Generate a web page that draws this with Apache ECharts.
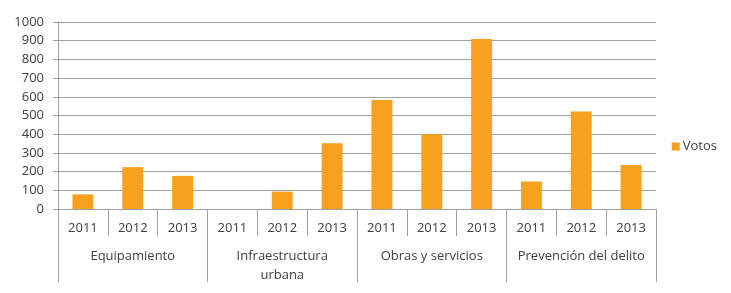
<!DOCTYPE html>
<html>
<head>
<meta charset="utf-8">
<script src="https://cdn.jsdelivr.net/npm/echarts@6/dist/echarts.min.js"></script>
<style>
  html, body { margin: 0; padding: 0; background: #fff; }
  #chart { width: 731px; height: 293px; }
</style>
</head>
<body>
<div id="chart"></div>
<script>
// data
var groups = ['Equipamiento', 'Infraestructura\nurbana', 'Obras y servicios', 'Prevención del delito'];
var years = ['2011', '2012', '2013'];
var votos = [78, 224, 177, 0, 93, 352, 583, 400, 909, 147, 521, 235];
var yTicks = { min: 0, max: 1000, interval: 100 };

var yearLabels = [];
groups.forEach(function () { yearLabels = yearLabels.concat(years); });

var textColor = '#404040';
var lineColor = '#a0a0a0';
var font = 'Open Sans';

var chart = echarts.init(document.getElementById('chart'));
chart.setOption({
  animation: false,
  textStyle: { fontFamily: font },
  legend: {
    right: 9,
    top: 'middle',
    icon: 'rect',
    itemWidth: 8,
    itemHeight: 8,
    textStyle: { color: textColor, fontSize: 13, fontFamily: font, padding: [0, 0, 0, -2] },
    data: ['Votos']
  },
  grid: { left: 58, right: 75, top: 22, bottom: 84 },
  xAxis: [
    {
      type: 'category',
      data: yearLabels,
      axisLine: { show: true, lineStyle: { color: lineColor } },
      axisTick: { show: true, length: 27, lineStyle: { color: lineColor } },
      axisLabel: { color: textColor, fontSize: 13, margin: 13, interval: 0 }
    },
    {
      type: 'category',
      position: 'bottom',
      data: groups,
      axisLine: { show: false },
      axisTick: { show: true, length: 73, lineStyle: { color: lineColor } },
      axisLabel: { color: textColor, fontSize: 13, margin: 38, lineHeight: 19, interval: 0 }
    }
  ],
  yAxis: {
    type: 'value',
    min: yTicks.min,
    max: yTicks.max,
    interval: yTicks.interval,
    axisLine: { show: true, lineStyle: { color: lineColor } },
    axisTick: { show: true, length: 5, lineStyle: { color: lineColor } },
    axisLabel: { color: textColor, fontSize: 13, margin: 14, formatter: function (v) { return String(v); } },
    splitLine: { show: true, lineStyle: { color: lineColor } }
  },
  series: [
    {
      name: 'Votos',
      type: 'bar',
      xAxisIndex: 0,
      barWidth: '42%',
      itemStyle: { color: '#f7a11f' },
      data: votos
    }
  ]
});
</script>
</body>
</html>
